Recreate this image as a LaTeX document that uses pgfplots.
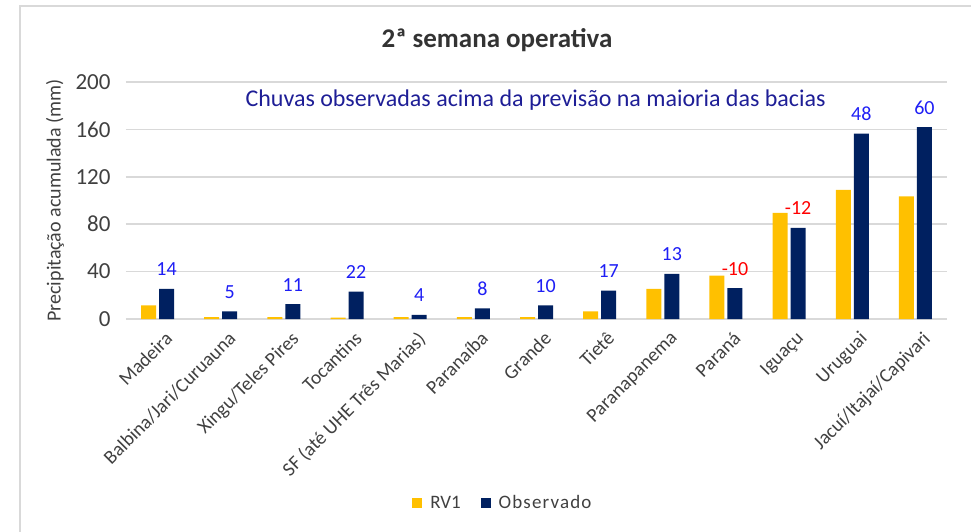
\documentclass[border=0pt]{standalone}
\usepackage{pgfplots}
\pgfplotsset{compat=1.18}
\usepackage{fontspec}
\setmainfont{Carlito}
\newfontfamily\spacedfont[LetterSpace=6]{Carlito}
\definecolor{rvone}{HTML}{FFC000}
\definecolor{obs}{HTML}{002060}
\definecolor{gridc}{HTML}{D9D9D9}
\definecolor{lblblue}{RGB}{30,30,245}
\definecolor{subblue}{RGB}{30,30,150}
\definecolor{txt}{HTML}{404040}
\begin{document}
\begin{tikzpicture}
\useasboundingbox (-126bp,-213bp) rectangle (845bp,319bp);
\draw[gridc, line width=1.5bp] (-106bp,-213bp) -- (-106bp,313bp) -- (845bp,313bp);
\begin{axis}[
  at={(0,0)}, anchor=south west,
  scale only axis, width=821bp, height=237bp,
  ybar=3bp, bar width=15bp,
  xmin=-0.5, xmax=12.5, ymin=0, ymax=200,
  ytick={0,40,80,120,160,200},
  xtick={0,...,12},
  xticklabels={Madeira,Balbina/Jari/Curuauna,Xingu/Teles Pires,Tocantins,SF (até UHE Três Marias),Paranaíba,Grande,Tietê,Paranapanema,Paraná,Iguaçu,Uruguai,Jacuí/Itajaí/Capivari},
  xticklabel style={rotate=45, anchor=north east, font=\fontsize{19.5bp}{21bp}\selectfont, text=txt, xshift=0bp, yshift=-9bp},
  yticklabel style={font=\fontsize{23bp}{25bp}\selectfont, text=txt, xshift=-12bp},
  /pgf/number format/assume math mode=true,
  major tick length=0pt,
  axis line style={draw=none},
  ymajorgrids, grid style={gridc, line width=1.5bp},
  every axis y label/.style={at={(axis description cs:0,0.5)}, xshift=-71bp, rotate=90, anchor=center, font=\fontsize{20bp}{22bp}\selectfont, text=txt},
  ylabel={Precipitação acumulada (mm)},
  legend style={at={(0.459,-0.776)}, anchor=center, draw=none, fill=none, legend columns=2, font=\fontsize{19bp}{21bp}\selectfont, text=txt, /tikz/every even column/.append style={column sep=18bp}, /tikz/every odd column/.append style={column sep=6bp}},
  legend image code/.code={\fill[#1] (0bp,-5bp) rectangle (10bp,5bp);},
  clip=false,
]
\addplot[fill=rvone, draw=none] coordinates {
 (0,11.5) (1,1.5) (2,1.5) (3,1.2) (4,1.5) (5,1.5) (6,1.5) (7,6.5) (8,25.5) (9,36.5) (10,89.5) (11,109) (12,103.5)};
\addlegendentry{RV1}
\addplot[fill=obs, draw=none,
  point meta=explicit symbolic,
  nodes near coords,
  every node near coord/.append style={anchor=base, yshift=13bp, font=\fontsize{20bp}{22bp}\selectfont, text=lblblue}] coordinates {
 (0,25.5) [14]
 (1,6.5) [5]
 (2,12.5) [11]
 (3,23) [22]
 (4,3.5) [4]
 (5,9) [8]
 (6,11.5) [10]
 (7,24) [17]
 (8,38) [13]
 (9,26) [\textcolor{red}{-10}]
 (10,77) [\textcolor{red}{-12}]
 (11,156.5) [48]
 (12,162) [60]};
\addlegendentry{\spacedfont Observado}
\end{axis}
\node[font=\fontsize{27bp}{29bp}\selectfont\bfseries, text=txt!80!black] at (371bp,279bp) {2ª semana operativa};
\node[font=\fontsize{24bp}{26bp}\selectfont, text=subblue, anchor=west] at (116bp,219bp) {Chuvas observadas acima da previsão na maioria das bacias};
\end{tikzpicture}
\end{document}
